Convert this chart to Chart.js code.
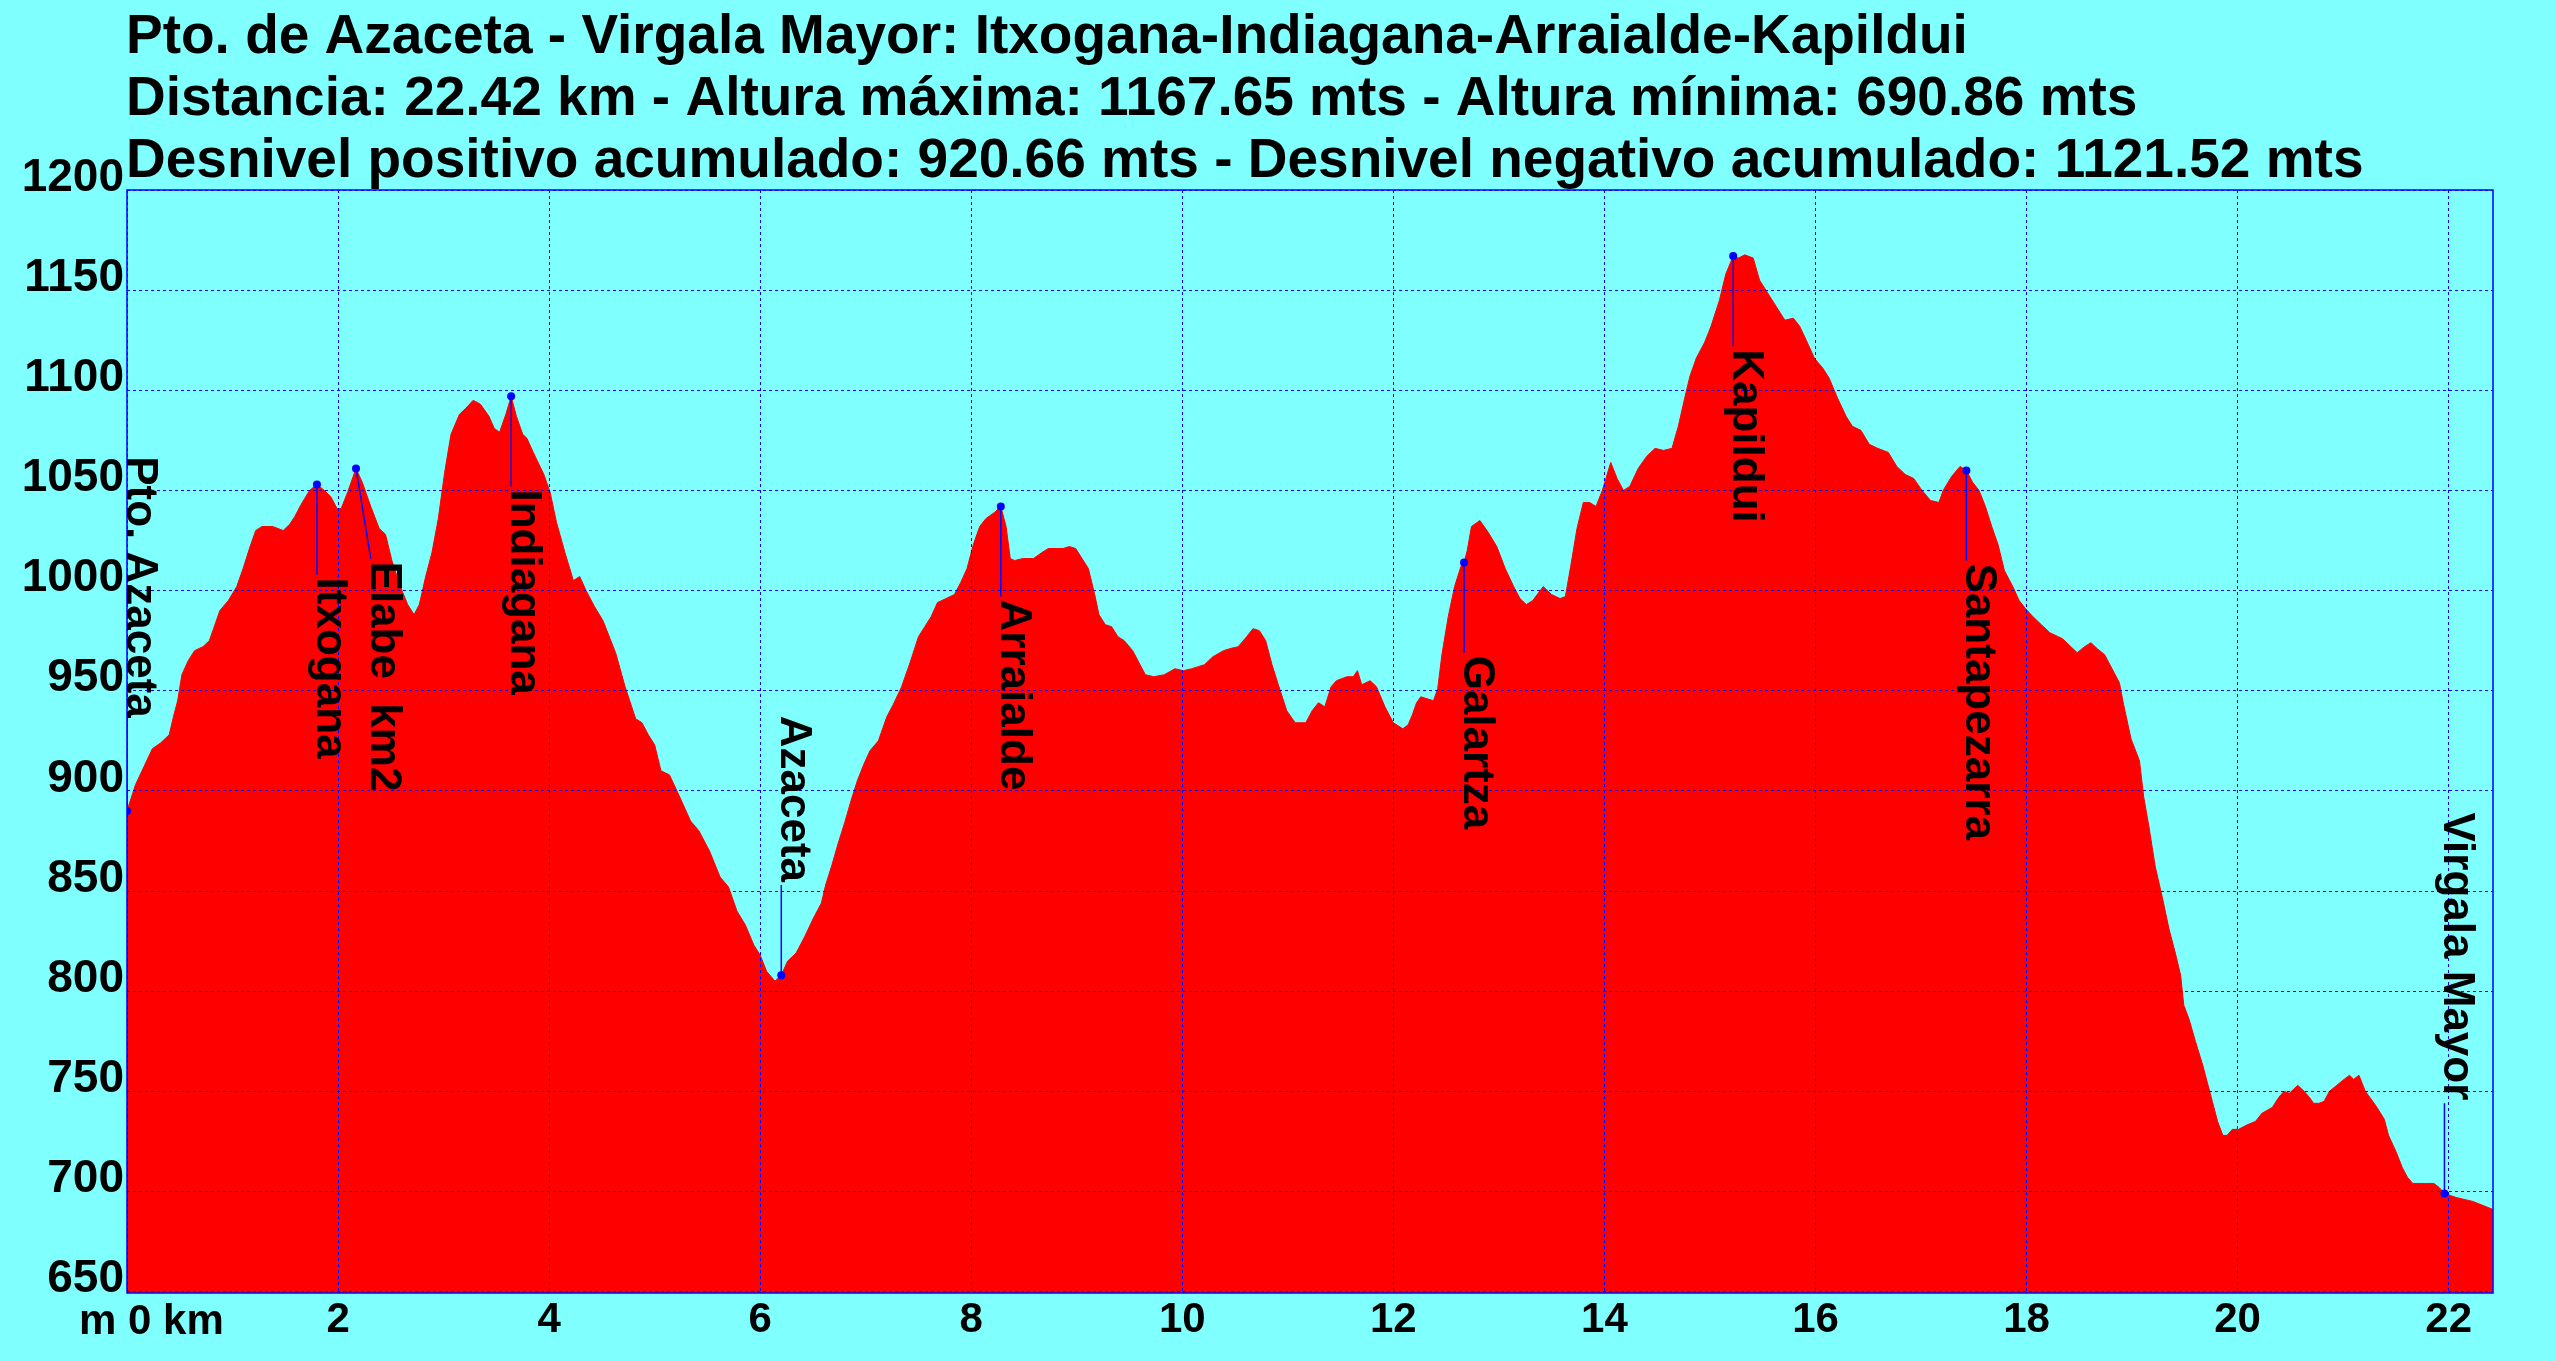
<!DOCTYPE html>
<html>
<head>
<meta charset="utf-8">
<title>Pto. de Azaceta - Virgala Mayor</title>
<script src="https://cdn.jsdelivr.net/npm/chart.js@4.4.0/dist/chart.umd.min.js"></script>
<style>
    html, body { margin: 0; padding: 0; background: #80FFFF; }
    canvas { display: block; }
</style>
</head>
<body>
<canvas id="profileChart" width="2556" height="1361"></canvas>
<script>
// Header text
const titleLines = [
    'Pto. de Azaceta - Virgala Mayor: Itxogana-Indiagana-Arraialde-Kapildui',
    'Distancia: 22.42 km - Altura máxima: 1167.65 mts - Altura mínima: 690.86 mts',
    'Desnivel positivo acumulado: 920.66 mts - Desnivel negativo acumulado: 1121.52 mts'
];

// Profile: distance along the route (km) and altitude (m)
const distKm = [
    0, 0.08, 0.16, 0.24, 0.32, 0.40, 0.44, 0.48, 0.52, 0.58,
    0.64, 0.72, 0.78, 0.82, 0.88, 0.96, 1.04, 1.10, 1.16, 1.22,
    1.28, 1.38, 1.48, 1.54, 1.59, 1.65, 1.73, 1.80, 1.87, 1.93,
    1.99, 2.03, 2.09, 2.17, 2.23, 2.31, 2.39, 2.45, 2.51, 2.59,
    2.66, 2.72, 2.77, 2.83, 2.89, 2.95, 3.01, 3.07, 3.15, 3.21,
    3.28, 3.35, 3.43, 3.48, 3.53, 3.59, 3.64, 3.69, 3.75, 3.79,
    3.85, 3.95, 4.01, 4.07, 4.15, 4.23, 4.29, 4.35, 4.43, 4.51,
    4.63, 4.72, 4.82, 4.88, 4.94, 5.00, 5.06, 5.14, 5.22, 5.34,
    5.42, 5.52, 5.62, 5.70, 5.78, 5.86, 5.94, 6.00, 6.06, 6.14,
    6.20, 6.26, 6.34, 6.42, 6.50, 6.58, 6.62, 6.68, 6.74, 6.80,
    6.86, 6.92, 6.98, 7.04, 7.12, 7.20, 7.26, 7.34, 7.42, 7.50,
    7.56, 7.62, 7.68, 7.76, 7.84, 7.90, 7.96, 8.02, 8.08, 8.14,
    8.22, 8.28, 8.33, 8.37, 8.41, 8.49, 8.59, 8.67, 8.73, 8.81,
    8.87, 8.93, 8.99, 9.05, 9.11, 9.17, 9.21, 9.27, 9.33, 9.39,
    9.45, 9.53, 9.59, 9.65, 9.73, 9.83, 9.93, 10.01, 10.09, 10.21,
    10.29, 10.39, 10.45, 10.53, 10.61, 10.67, 10.73, 10.79, 10.85, 10.91,
    10.99, 11.07, 11.17, 11.23, 11.29, 11.35, 11.41, 11.46, 11.56, 11.62,
    11.66, 11.70, 11.78, 11.84, 11.92, 12.00, 12.09, 12.14, 12.18, 12.22,
    12.26, 12.32, 12.38, 12.42, 12.46, 12.52, 12.58, 12.64, 12.67, 12.70,
    12.74, 12.82, 12.90, 12.98, 13.06, 13.14, 13.20, 13.26, 13.32, 13.42,
    13.50, 13.58, 13.63, 13.68, 13.74, 13.80, 13.86, 13.92, 13.98, 14.06,
    14.12, 14.18, 14.24, 14.32, 14.40, 14.48, 14.56, 14.64, 14.70, 14.76,
    14.81, 14.87, 14.95, 15.01, 15.09, 15.15, 15.22, 15.27, 15.33, 15.41,
    15.47, 15.53, 15.59, 15.65, 15.71, 15.79, 15.85, 15.93, 15.99, 16.07,
    16.13, 16.21, 16.29, 16.35, 16.43, 16.51, 16.59, 16.69, 16.77, 16.85,
    16.93, 17.01, 17.09, 17.17, 17.21, 17.29, 17.37, 17.43, 17.49, 17.55,
    17.61, 17.67, 17.73, 17.79, 17.87, 17.93, 17.99, 18.06, 18.14, 18.22,
    18.30, 18.34, 18.42, 18.48, 18.55, 18.61, 18.67, 18.74, 18.81, 18.88,
    18.92, 18.99, 19.07, 19.11, 19.16, 19.22, 19.29, 19.35, 19.41, 19.46,
    19.49, 19.54, 19.60, 19.67, 19.71, 19.76, 19.81, 19.86, 19.90, 19.95,
    20.01, 20.08, 20.17, 20.23, 20.33, 20.39, 20.44, 20.49, 20.57, 20.63,
    20.68, 20.72, 20.77, 20.82, 20.87, 20.94, 21.01, 21.06, 21.10, 21.15,
    21.21, 21.28, 21.32, 21.39, 21.43, 21.50, 21.56, 21.61, 21.66, 21.72,
    21.78, 21.86, 21.91, 21.96, 22.07, 22.23, 22.42
];
const altM = [
    890, 903, 912, 921, 924, 928, 937, 945, 958, 965,
    970, 972, 975, 981, 990, 995, 1002, 1011, 1021, 1030,
    1032, 1032, 1030, 1033, 1037, 1043, 1050, 1053, 1050, 1047,
    1041, 1041, 1049, 1061, 1054, 1042, 1031, 1028, 1015, 1002,
    993, 988, 993, 1007, 1019, 1036, 1059, 1078, 1088, 1091,
    1095, 1093, 1087, 1081, 1079, 1088, 1097, 1087, 1078, 1076,
    1069, 1058, 1049, 1034, 1019, 1005, 1007, 1000, 992, 985,
    969, 952, 936, 934, 928, 923, 910, 908, 899, 885,
    880, 870, 857, 852, 840, 833, 823, 818, 810, 805,
    808, 815, 819, 827, 836, 844, 853, 863, 874, 884,
    895, 905, 913, 920, 925, 937, 943, 952, 964, 977,
    982, 987, 994, 996, 998, 1004, 1011, 1023, 1032, 1036,
    1039, 1042, 1032, 1016, 1015, 1016, 1016, 1019, 1021, 1021,
    1021, 1022, 1021, 1016, 1011, 998, 988, 983, 982, 977,
    975, 970, 964, 958, 957, 958, 961, 960, 961, 963,
    967, 970, 971, 972, 977, 981, 980, 975, 963, 953,
    940, 934, 934, 940, 944, 942, 952, 955, 957, 957,
    960, 953, 955, 952, 942, 934, 931, 933, 938, 944,
    947, 946, 945, 951, 968, 987, 1002, 1012, 1014, 1020,
    1032, 1035, 1029, 1022, 1011, 1002, 996, 993, 995, 1002,
    998, 996, 997, 1012, 1031, 1044, 1044, 1042, 1050, 1064,
    1056, 1050, 1052, 1061, 1067, 1071, 1070, 1071, 1082, 1096,
    1107, 1116, 1124, 1132, 1145, 1158, 1167, 1166, 1167.65, 1166,
    1155, 1150, 1145, 1140, 1135, 1136, 1132, 1123, 1116, 1111,
    1106, 1096, 1087, 1082, 1080, 1073, 1071, 1069, 1062, 1058,
    1056, 1050, 1045, 1044, 1050, 1057, 1062, 1060, 1054, 1050,
    1042, 1032, 1023, 1010, 1002, 995, 991, 987, 983, 979,
    977, 976, 972, 969, 972, 974, 971, 968, 961, 954,
    943, 926, 915, 897, 882, 862, 846, 831, 819, 808,
    793, 786, 775, 763, 755, 745, 735, 728, 728, 731,
    731, 733, 735, 739, 742, 747, 750, 749, 753, 750,
    747, 744, 744, 745, 750, 753, 756, 758, 756, 758,
    750, 745, 742, 736, 728, 720, 712, 707, 704, 704,
    704, 704, 702, 699, 697, 695, 691
];

// Axis ticks
const xTickValues = [0, 2, 4, 6, 8, 10, 12, 14, 16, 18, 20, 22];
const yTickValues = [650, 700, 750, 800, 850, 900, 950, 1000, 1050, 1100, 1150, 1200];

// Waypoints: name, position of the dot, where the name is written, and on which side
const wpNames = ['Pto. Azaceta', 'Itxogana', 'Elabe  km2', 'Indiagana', 'Azaceta',
                 'Arraialde', 'Galartza', 'Kapildui', 'Santapezarra', 'Virgala Mayor'];
const wpKm = [0, 1.80, 2.17, 3.64, 6.20, 8.28, 12.67, 15.22, 17.43, 21.96];
const wpAlt = [890, 1053, 1061, 1097, 808, 1042, 1014, 1167, 1060, 699];
const wpTextKm = [0, 1.80, 2.31, 3.64, 6.20, 8.28, 12.67, 15.22, 17.43, 21.96];
const wpSide = ['up', 'down', 'down', 'down', 'up', 'down', 'down', 'down', 'down', 'up'];

const FONT = '"Liberation Sans", Arial, sans-serif';
const BLUE = '#0000FF';
const LEADER_M = 45; // length of the leader line, in metres of the y scale

// Leader line end (where the name starts or ends)
function leaderEnd(i) {
    return wpSide[i] === 'down' ? wpAlt[i] - LEADER_M : wpAlt[i] + LEADER_M;
}

// Build the leader line segments, separated by gaps
function buildLeaders() {
    const pts = [];
    wpNames.forEach((name, i) => {
        pts.push({x: wpKm[i], y: wpAlt[i]});
        pts.push({x: wpTextKm[i], y: leaderEnd(i)});
        pts.push({x: wpTextKm[i], y: null});
    });
    return pts;
}

// Title, frame, corner units and waypoint names
const decorations = {
    id: 'decorations',
    afterDraw(chart) {
        const ctx = chart.ctx;
        const area = chart.chartArea;
        const xs = chart.scales.x;
        const ys = chart.scales.y;

        ctx.save();

        // Plot frame
        ctx.strokeStyle = BLUE;
        ctx.lineWidth = 1.5;
        ctx.strokeRect(area.left, area.top, area.right - area.left, area.bottom - area.top);

        // Title lines
        ctx.fillStyle = '#000';
        ctx.textAlign = 'left';
        ctx.textBaseline = 'alphabetic';
        ctx.font = 'bold 55px ' + FONT;
        const baselines = [53, 115, 177];
        titleLines.forEach((line, i) => ctx.fillText(line, 126, baselines[i]));

        // "m 0 km" in the lower left corner
        ctx.font = 'bold 42px ' + FONT;
        const x0 = xs.getPixelForValue(0) + 1;
        ctx.fillText('m 0 km', x0 - ctx.measureText('m ').width, 1334);

        // Waypoint names, written top to bottom
        ctx.font = 'bold 44px ' + FONT;
        wpNames.forEach((name, i) => {
            const px = xs.getPixelForValue(wpTextKm[i]);
            const py = ys.getPixelForValue(leaderEnd(i));
            const w = ctx.measureText(name).width;
            const start = wpSide[i] === 'down' ? py + 3 : py - 3 - w;
            ctx.save();
            ctx.translate(px, start);
            ctx.rotate(Math.PI / 2);
            ctx.fillText(name, 0, 0);
            ctx.restore();
        });

        ctx.restore();
    }
};

const ctx = document.getElementById('profileChart').getContext('2d');
const profileChart = new Chart(ctx, {
    type: 'line',
    data: {
        datasets: [
            {
                label: 'Altitud',
                data: distKm.map((d, i) => ({x: d, y: altM[i]})),
                fill: 'start',
                backgroundColor: '#FF0000',
                borderColor: '#FF0000',
                borderWidth: 1,
                pointRadius: 0,
                tension: 0,
                order: 3
            },
            {
                label: 'Guias',
                data: buildLeaders(),
                borderColor: BLUE,
                borderWidth: 1.5,
                pointRadius: 0,
                spanGaps: false,
                fill: false,
                order: 2
            },
            {
                type: 'scatter',
                label: 'Puntos',
                data: wpKm.map((d, i) => ({x: d, y: wpAlt[i]})),
                backgroundColor: BLUE,
                borderWidth: 0,
                pointRadius: 4,
                order: 1
            }
        ]
    },
    options: {
        responsive: false,
        devicePixelRatio: 1,
        animation: false,
        events: [],
        layout: {
            padding: {top: 190, right: 63, left: 0, bottom: 0}
        },
        plugins: {
            legend: {display: false},
            tooltip: {enabled: false},
            title: {display: false}
        },
        scales: {
            x: {
                type: 'linear',
                min: 0,
                max: 22.42,
                afterBuildTicks: scale => {
                    scale.ticks = xTickValues.map(v => ({value: v}));
                },
                afterFit: scale => {
                    scale.height = 68;
                },
                ticks: {
                    callback: value => (value === 0 ? '' : String(value)),
                    color: '#000',
                    font: {family: FONT, size: 42, weight: 'bold'},
                    padding: 2,
                    maxRotation: 0,
                    autoSkip: false
                },
                grid: {
                    color: BLUE,
                    lineWidth: 1,
                    drawTicks: false,
                    z: 1
                },
                border: {display: false, dash: [3, 3]}
            },
            y: {
                type: 'linear',
                min: 649.3,
                max: 1200,
                afterBuildTicks: scale => {
                    scale.ticks = yTickValues.map(v => ({value: v}));
                },
                afterFit: scale => {
                    scale.width = 127;
                },
                ticks: {
                    callback: value => String(value),
                    color: '#000',
                    font: {family: FONT, size: 46, weight: 'bold'},
                    padding: 3,
                    labelOffset: -12,
                    autoSkip: false
                },
                grid: {
                    color: BLUE,
                    lineWidth: 1,
                    drawTicks: false,
                    z: 1
                },
                border: {display: false, dash: [3, 3]}
            }
        }
    },
    plugins: [decorations]
});
</script>
</body>
</html>
